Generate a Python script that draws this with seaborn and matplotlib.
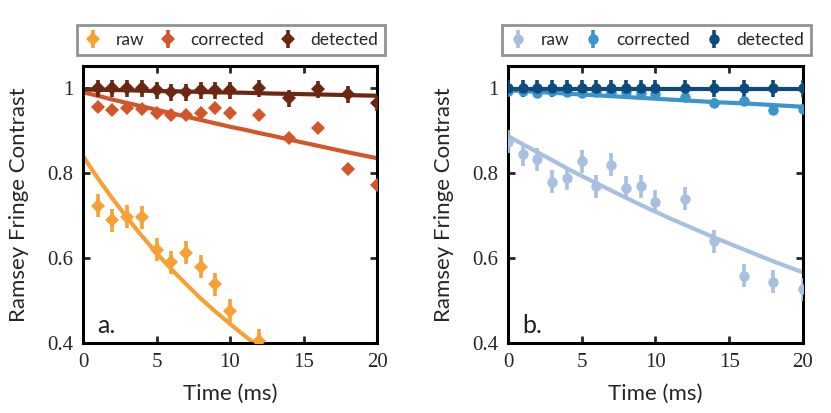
import numpy as np
import pandas as pd
import seaborn as sns
import matplotlib.pyplot as plt

# --- measured points (panel a) ---
t_a = [1, 2, 3, 4, 5, 6, 7, 8, 9, 10, 12, 14, 16, 18, 20]
raw_a = [0.723, 0.689, 0.697, 0.696, 0.619, 0.590, 0.613, 0.580, 0.538, 0.476, 0.405]
raw_a_err = [0.027, 0.027, 0.027, 0.027, 0.027, 0.027, 0.027, 0.027, 0.027, 0.027, 0.027]
cor_a = [0.956, 0.948, 0.953, 0.950, 0.942, 0.936, 0.936, 0.942, 0.952, 0.942, 0.936, 0.882, 0.906, 0.809, 0.773]
cor_a_err = [0.005, 0.005, 0.005, 0.005, 0.005, 0.005, 0.005, 0.005, 0.005, 0.005, 0.005, 0.008, 0.005, 0.005, 0.005]
det_a = [1.0, 1.0, 1.0, 1.0, 0.995, 0.99, 0.99, 0.995, 0.995, 0.995, 1.0, 0.976, 0.997, 0.985, 0.965]
det_a_err = [0.02] * 15

# --- measured points (panel b) ---
t_b = [0, 1, 2, 3, 4, 5, 6, 7, 8, 9, 10, 12, 14, 16, 18, 20]
raw_b = [0.874, 0.844, 0.832, 0.780, 0.788, 0.828, 0.769, 0.820, 0.765, 0.769, 0.732, 0.740, 0.640, 0.558, 0.544, 0.526]
raw_b_err = [0.027] * 16
cor_b = [0.994, 0.994, 0.988, 0.994, 0.991, 0.988, 0.990, 0.990, 0.990, 0.988, 0.985, 0.980, 0.964, 0.970, 0.948, 0.950]
cor_b_err = [0.012] * 16
det_b = [1.0] * 16
det_b_err = [0.02] * 16

# --- fit curves ---
t_fit = [0, 1, 2, 3, 4, 5, 6, 7, 8, 9, 10, 11, 12, 13, 14, 16, 18, 20]
fit_raw_a = [0.840, 0.788, 0.740, 0.695, 0.652, 0.612, 0.574, 0.539, 0.505, 0.474, 0.445, 0.417, 0.390, 0.366, 0.344, 0.30, 0.27, 0.24]
fit_cor_a = [0.990, 0.982, 0.973, 0.965, 0.957, 0.949, 0.941, 0.933, 0.925, 0.917, 0.909, 0.902, 0.894, 0.887, 0.879, 0.864, 0.849, 0.835]
fit_det_a = [0.997, 0.996, 0.9955, 0.995, 0.994, 0.993, 0.9925, 0.992, 0.991, 0.990, 0.9895, 0.989, 0.988, 0.987, 0.9865, 0.985, 0.9835, 0.982]
fit_raw_b = [0.887, 0.868, 0.849, 0.830, 0.811, 0.793, 0.776, 0.759, 0.742, 0.725, 0.709, 0.693, 0.678, 0.663, 0.648, 0.620, 0.592, 0.566]
fit_cor_b = [0.995, 0.993, 0.991, 0.989, 0.987, 0.985, 0.983, 0.981, 0.979, 0.977, 0.975, 0.973, 0.971, 0.969, 0.967, 0.964, 0.960, 0.956]
fit_det_b = [0.999] * 18

labels = ["raw", "corrected", "detected"]
colors_a = ["#F7A033", "#D3552A", "#6B2712"]
colors_b = ["#A8C0E0", "#3A95CB", "#0C4B7B"]

sns.set_theme(style="ticks")
plt.rcParams["font.family"] = ["Lato", "DejaVu Sans"]

fig = plt.figure(figsize=(8.31, 4.13), dpi=100)
ax_a = fig.add_axes([0.0999, 0.1695, 0.3538, 0.6707])
ax_b = fig.add_axes([0.6113, 0.1695, 0.3550, 0.6707])

panels = [
    (ax_a, "a.", "D", 7.5, colors_a,
     [(t_a[:len(raw_a)], raw_a, raw_a_err), (t_a, cor_a, cor_a_err), (t_a, det_a, det_a_err)],
     [fit_raw_a, fit_cor_a, fit_det_a]),
    (ax_b, "b.", "o", 7.5, colors_b,
     [(t_b, raw_b, raw_b_err), (t_b, cor_b, cor_b_err), (t_b, det_b, det_b_err)],
     [fit_raw_b, fit_cor_b, fit_det_b]),
]

for ax, tag, mk, ms, cols, pts, fits in panels:
    handles = []
    for (t, y, e), fit, c, lab in zip(pts, fits, cols, labels):
        fit_df = pd.DataFrame({"t": t_fit, "y": fit})
        sns.lineplot(data=fit_df, x="t", y="y", ax=ax, color=c, lw=3.0, zorder=2)
        h = ax.errorbar(t, y, yerr=e, fmt=mk, ms=ms, color=c, ecolor=c, mew=0,
                        elinewidth=2.6, capsize=0, label=lab, zorder=3)
        handles.append(h)
    ax.set_xlim(0, 20)
    ax.set_ylim(0.4, 1.052)
    ax.set_xticks([0, 5, 10, 15, 20])
    ax.set_yticks([0.4, 0.6, 0.8, 1.0])
    ax.set_xticklabels(["0", "5", "10", "15", "20"], family="Liberation Serif", fontsize=15)
    ax.set_yticklabels(["0.4", "0.6", "0.8", "1"], family="Liberation Serif", fontsize=15)
    ax.tick_params(direction="in", length=5, width=2, top=True, right=True, pad=7)
    for s in ax.spines.values():
        s.set_linewidth(2.2)
        s.set_color("black")
    ax.set_xlabel("Time (ms)", fontsize=16, labelpad=9)
    ax.set_ylabel("Ramsey Fringe Contrast", fontsize=16, labelpad=13)
    ax.text(0.05, 0.035, tag, transform=ax.transAxes, fontsize=18, color="#222222")
    leg = ax.legend(handles=handles, labels=labels, ncol=3, mode="expand",
                    bbox_to_anchor=(-0.02, 1.04, 1.048, 0.11), loc="lower left",
                    borderaxespad=0, fontsize=12.5, frameon=True, fancybox=False,
                    handlelength=1.0, handletextpad=0.8, columnspacing=1.5)
    leg.get_frame().set_edgecolor("#777777")
    leg.get_frame().set_linewidth(2)

fig.savefig("out.png", dpi=100)
